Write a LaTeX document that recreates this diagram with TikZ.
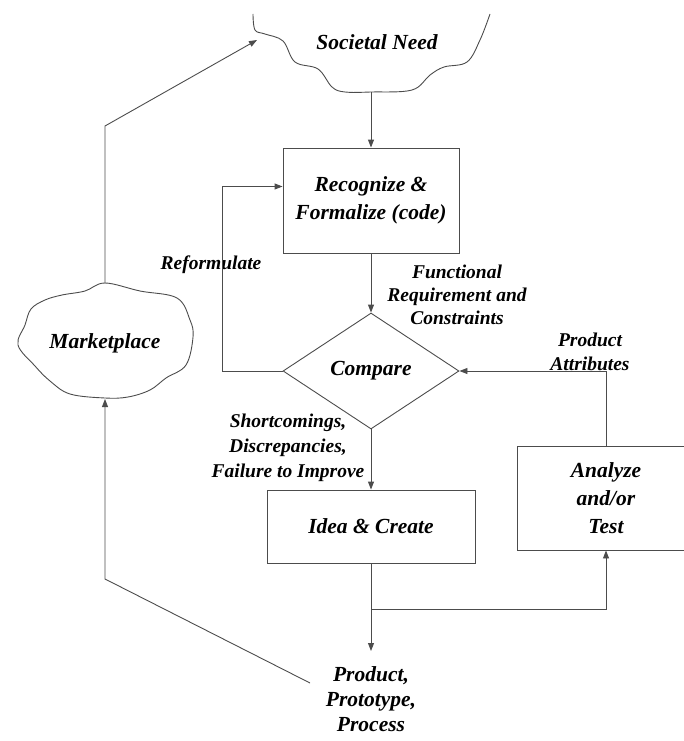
\documentclass[tikz,border=0pt]{standalone}
\usepackage{fontspec}
\setmainfont{Liberation Serif}
\usetikzlibrary{arrows.meta, positioning, shapes.geometric}
\tikzset{
    loopdiagram/.style={x=1pt, y=-1pt, >={Triangle[length=8pt,width=6pt]}, line width=0.9pt, draw=black!70,
        font=\bfseries\itshape\fontsize{21.5}{28}\selectfont},
    block/.style={draw=black!70, rectangle, align=center, inner sep=0pt},
    decision/.style={draw=black!70, diamond, aspect=1.5, inner sep=0pt, minimum width=176pt, minimum height=116pt},
    cloudtext/.style={align=center, inner sep=0pt},
    % labels next to the arrows, a little smaller than the node texts
    tag/.style={align=center, inner sep=0pt, font=\bfseries\itshape\fontsize{19.5}{24}\selectfont},
}

\begin{document}
\begin{tikzpicture}[loopdiagram]
    \useasboundingbox (0,0) rectangle (684,741);

    % the two clouds
    \draw plot[smooth, tension=0.6] coordinates {(253,14) (255,30) (265,34) (283,41) (295,62) (318,69)
        (332,87) (345,92) (371,92) (412,90) (430,75) (444,67) (467,62) (480,40) (490,14)};
    \node[cloudtext] (need) at (377,42) {Societal Need};
    \draw plot[smooth cycle, tension=0.6] coordinates {(105,283) (140,291) (177,298) (190,320) (193,337)
        (186,365) (166,378) (150,390) (128,397) (105,398) (70,394) (50,381) (35,366) (18,345) (25,325)
        (31,309) (45,300) (62,295) (85,291)};
    \node[cloudtext] (mkt) at (105,343) {Marketplace};

    \coordinate (needbot) at (371,92);
    \coordinate (needleft) at (257,40);
    \coordinate (mkttop) at (105,283);
    \coordinate (mktbot) at (105,399);

    \node[block, minimum width=176pt, minimum height=105pt] (rec) at (371,200.5) {Recognize \&\\Formalize (code)};
    \node[decision] (cmp) at (371,371) {Compare};
    \node[block, minimum width=208pt, minimum height=73pt] (idea) at (371,526.5) {Idea \& Create};
    \node[block, minimum width=178pt, minimum height=104pt] (ana) at (606,498) {Analyze\\and/or\\Test};
    \node[cloudtext, anchor=north, font=\bfseries\itshape\fontsize{21.5}{25}\selectfont] (prod) at (371,666) {Product,\\Prototype,\\Process};

    \node[tag] (reform) at (211,265) {Reformulate};
    \node[tag, font=\bfseries\itshape\fontsize{19.5}{23}\selectfont] (req) at (457,295) {Functional\\Requirement and\\Constraints};
    \node[tag] (attr) at (590,352) {Product\\Attributes};
    \node[tag, font=\bfseries\itshape\fontsize{19.5}{25}\selectfont] (short) at (288,448) {Shortcomings,\\Discrepancies,\\Failure to Improve};

    \draw[->] (needbot) -- (rec.north);
    \draw[->] (rec.south) -- (cmp.north);
    \draw[->] (cmp.south) -- (idea.north);
    \draw[->] (idea.south) -- ([yshift=15pt]prod.north);

    % reformulate loop
    \draw[->] (cmp.west) -- ++(-60,0) |- ([yshift=14pt]rec.west);

    % test loop
    \coordinate (split) at (371,609);
    \draw[->] (split) -| (ana.south);
    \draw[->] (ana.north) |- (cmp.east);

    % out to the marketplace and back to society
    \coordinate (pstart) at (310,683);
    \draw[->] (pstart) -- (105,579) -- (mktbot);
    \draw[->] (mkttop) -- (105,126) -- (needleft);
\end{tikzpicture}
\end{document}
